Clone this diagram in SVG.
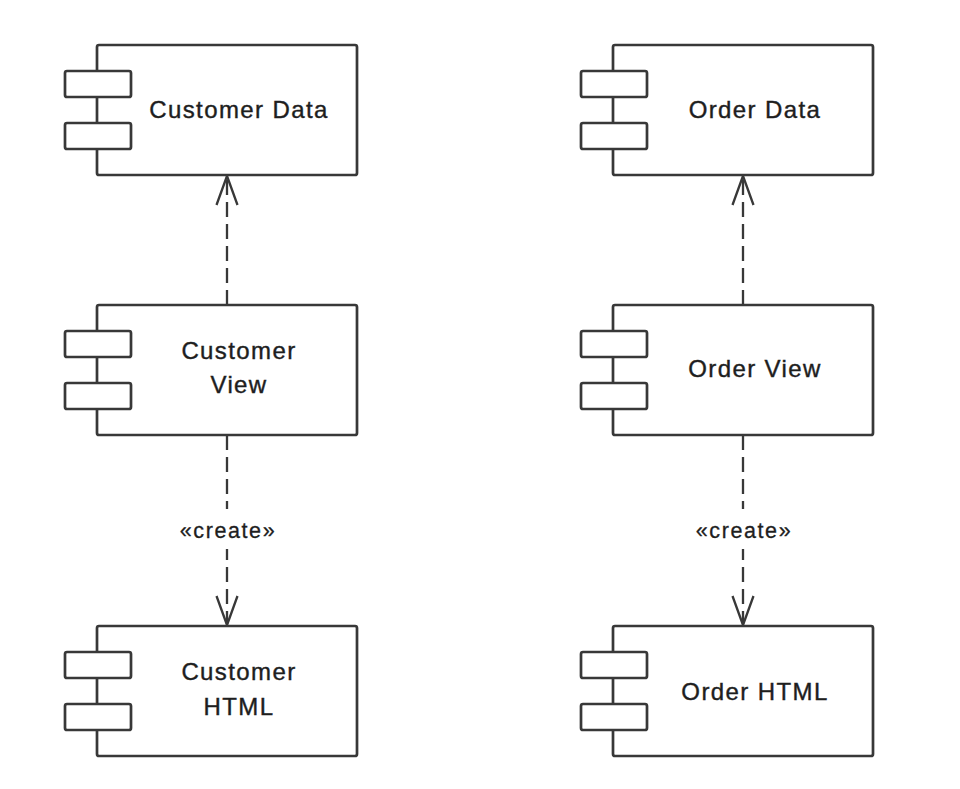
<svg xmlns="http://www.w3.org/2000/svg" width="960" height="789" viewBox="0 0 960 789">
  <style>
    .body { fill: #ffffff; stroke: #383838; stroke-width: 2.7; }
    .port { fill: #ffffff; stroke: #383838; stroke-width: 2.7; }
    .name { font-family: "Liberation Sans", Arial, sans-serif; font-size: 24px; letter-spacing: 1.4px; fill: #1e1e1e; stroke: #1e1e1e; stroke-width: 0.4; text-anchor: middle; }
    .dep { fill: none; stroke: #383838; stroke-width: 2.3; stroke-dasharray: 15 7; }
    .head { fill: none; stroke: #383838; stroke-width: 2.3; stroke-linejoin: miter; }
    .stereo { font-family: "Liberation Sans", Arial, sans-serif; font-size: 21.5px; letter-spacing: 1.6px; fill: #1e1e1e; stroke: #1e1e1e; stroke-width: 0.3; text-anchor: middle; }
  </style>
  <defs>
    <!-- UML component symbol: body box with two port tabs on the left edge -->
    <g id="component">
      <rect class="body" x="0" y="0" width="260" height="130" rx="2"/>
      <rect class="port" x="-32" y="26" width="66" height="26" rx="2"/>
      <rect class="port" x="-32" y="78" width="66" height="26" rx="2"/>
    </g>
  </defs>

  <rect width="960" height="789" fill="#ffffff"/>

  <g id="connectors">
    <!-- Customer View uses Customer Data -->
    <line class="dep" x1="227" y1="305" x2="227" y2="177"/>
    <polyline class="head" points="216.5,205 227,176 237.5,205"/>
    <!-- Order View uses Order Data -->
    <line class="dep" x1="743" y1="305" x2="743" y2="177"/>
    <polyline class="head" points="732.5,205 743,176 753.5,205"/>
    <!-- Customer View creates Customer HTML -->
    <line class="dep" x1="227" y1="435" x2="227" y2="624"/>
    <polyline class="head" points="216.5,596 227,625 237.5,596"/>
    <rect x="174" y="509" width="106" height="40" fill="#ffffff"/>
    <text class="stereo" x="228" y="538">«create»</text>
    <!-- Order View creates Order HTML -->
    <line class="dep" x1="743" y1="435" x2="743" y2="624"/>
    <polyline class="head" points="732.5,596 743,625 753.5,596"/>
    <rect x="690" y="509" width="106" height="40" fill="#ffffff"/>
    <text class="stereo" x="744" y="538">«create»</text>
  </g>

  <g id="customer-data">
    <use href="#component" x="97" y="45"/>
    <text class="name" x="239" y="118">Customer Data</text>
  </g>
  <g id="customer-view">
    <use href="#component" x="97" y="305"/>
    <text class="name" x="239" y="359">Customer</text>
    <text class="name" x="239" y="393">View</text>
  </g>
  <g id="customer-html">
    <use href="#component" x="97" y="626"/>
    <text class="name" x="239" y="680">Customer</text>
    <text class="name" x="239" y="715">HTML</text>
  </g>
  <g id="order-data">
    <use href="#component" x="613" y="45"/>
    <text class="name" x="755" y="118">Order Data</text>
  </g>
  <g id="order-view">
    <use href="#component" x="613" y="305"/>
    <text class="name" x="755" y="377">Order View</text>
  </g>
  <g id="order-html">
    <use href="#component" x="613" y="626"/>
    <text class="name" x="755" y="700">Order HTML</text>
  </g>
</svg>
